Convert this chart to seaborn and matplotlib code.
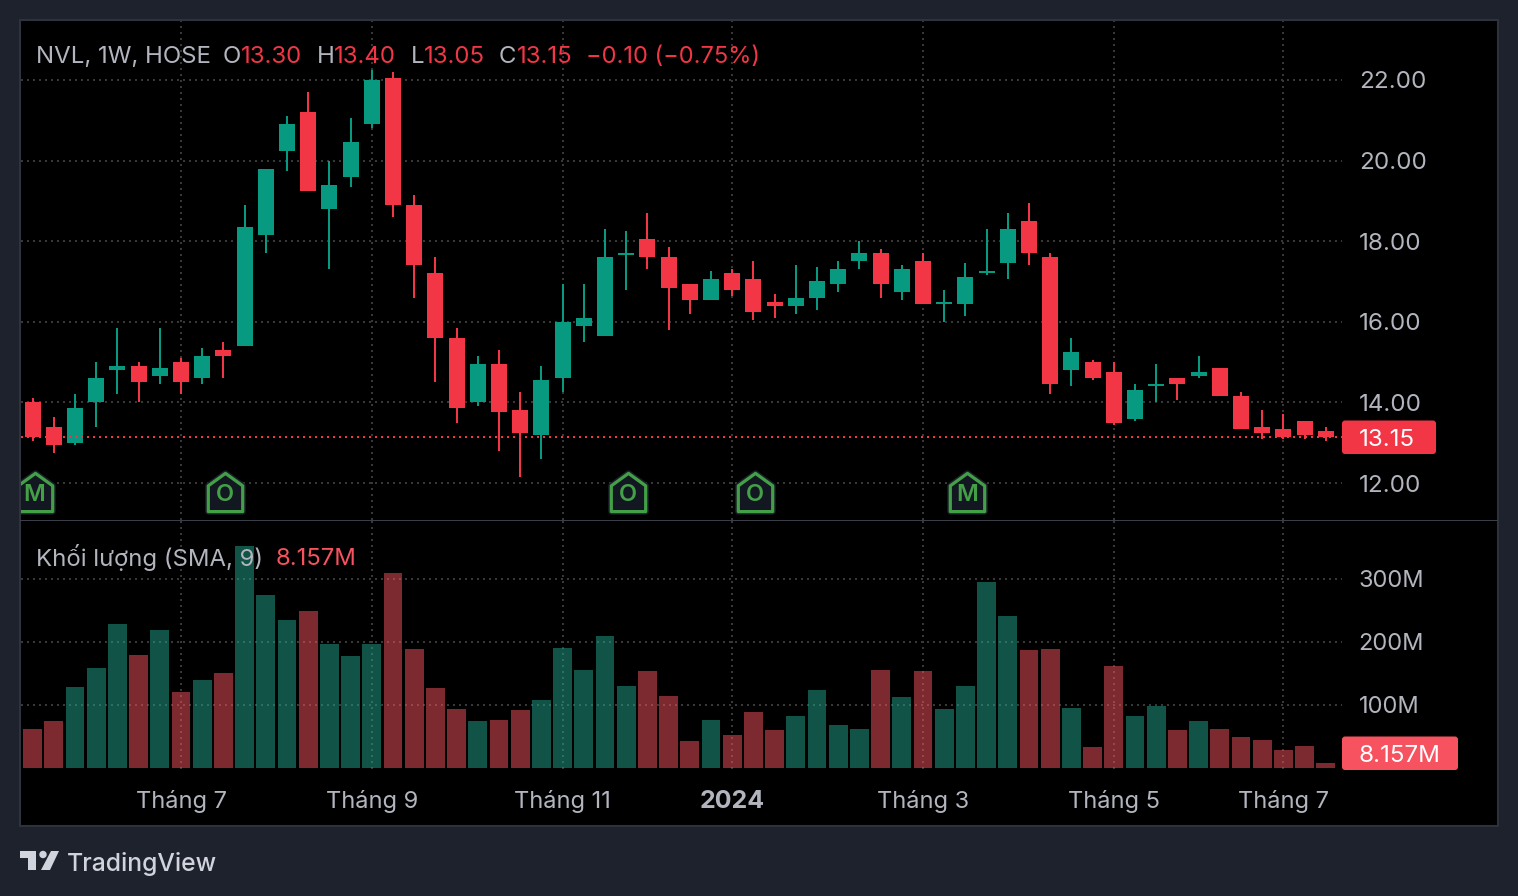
import numpy as np
import matplotlib
matplotlib.use("Agg")
import matplotlib.pyplot as plt
from matplotlib.patches import Rectangle, FancyBboxPatch, Polygon, Circle
from matplotlib.path import Path
from matplotlib.transforms import Affine2D
import seaborn as sns

# weekly candles
opens = [14.00, 13.40, 13.00, 14.00, 14.80, 14.90, 14.65, 15.00, 14.60, 15.30, 15.40, 18.15, 20.25, 21.20, 18.80, 19.60,
         20.90, 22.05, 18.90, 17.20, 15.60, 14.00, 14.95, 13.80, 13.20, 14.60, 15.90, 15.65, 17.65, 18.05, 17.60, 16.95,
         16.55, 17.20, 17.05, 16.50, 16.40, 16.60, 16.95, 17.50, 17.70, 16.75, 17.50, 16.45, 16.45, 17.20, 17.45, 18.50,
         17.60, 14.80, 15.00, 14.75, 13.60, 14.40, 14.60, 14.65, 14.85, 14.15, 13.40, 13.35, 13.55, 13.30]
highs = [14.10, 13.65, 14.20, 15.00, 15.85, 15.00, 15.85, 15.10, 15.35, 15.50, 18.90, 19.80, 21.10, 21.70, 20.00, 21.05,
         22.25, 22.20, 19.15, 17.60, 15.85, 15.15, 15.30, 14.25, 14.90, 16.95, 16.95, 18.30, 18.25, 18.70, 17.85, 16.95,
         17.25, 17.30, 17.50, 16.70, 17.40, 17.35, 17.50, 18.00, 17.80, 17.40, 17.70, 16.80, 17.45, 18.30, 18.70, 18.95,
         17.70, 15.60, 15.05, 15.00, 14.45, 14.95, 14.60, 15.15, 14.85, 14.25, 13.80, 13.70, 13.55, 13.40]
lows = [13.05, 12.75, 12.95, 13.40, 14.20, 14.00, 14.45, 14.20, 14.45, 14.60, 15.40, 17.70, 19.75, 19.25, 17.30, 19.35,
        20.80, 18.60, 16.60, 14.50, 13.50, 13.90, 12.80, 12.15, 12.60, 14.25, 15.50, 15.65, 16.80, 17.30, 15.80, 16.20,
        16.55, 16.65, 16.05, 16.10, 16.20, 16.30, 16.75, 17.30, 16.60, 16.55, 16.45, 16.00, 16.15, 17.15, 17.05, 17.40,
        14.20, 14.40, 14.55, 13.45, 13.55, 14.00, 14.05, 14.60, 14.15, 13.35, 13.10, 13.10, 13.10, 13.05]
closes = [13.15, 12.95, 13.85, 14.60, 14.90, 14.50, 14.85, 14.50, 15.15, 15.15, 18.35, 19.80, 20.90, 19.25, 19.40, 20.45,
          22.00, 18.90, 17.40, 15.60, 13.85, 14.95, 13.75, 13.25, 14.55, 16.00, 16.10, 17.60, 17.70, 17.60, 16.85, 16.55,
          17.05, 16.80, 16.25, 16.40, 16.60, 17.00, 17.30, 17.70, 16.95, 17.30, 16.45, 16.50, 17.10, 17.25, 18.30, 17.70,
          14.45, 15.25, 14.60, 13.50, 14.30, 14.45, 14.45, 14.75, 14.15, 13.35, 13.25, 13.15, 13.20, 13.15]
volumes = [62, 74.6, 128.6, 158.7, 228.6, 179.4, 219, 120.6, 139.7, 150.8, 352, 274.6, 235, 249, 196.8, 177.8,
           196.8, 309.5, 188.9, 127, 93.7, 74.6, 76, 92, 108, 190, 155.6, 209.5, 130, 154, 114, 43,
           76, 52, 89, 60, 82.5, 124, 68, 62, 155.6, 113, 154, 94, 130, 295, 241, 187,
           189, 95, 33, 162, 82.5, 98, 60, 74.6, 62, 49, 44, 28.6, 35, 8.157]

price_ticks = [12, 14, 16, 18, 20, 22]
volume_ticks = [100, 200, 300]
date_ticks = [7, 16, 25, 33, 42, 51, 59]
date_labels = ["Tháng 7", "Tháng 9", "Tháng 11", "2024", "Tháng 3", "Tháng 5", "Tháng 7"]
badge_bars = [0, 9, 28, 34, 44]
badge_letters = ["M", "O", "O", "O", "M"]
last_price = 13.15

BG = "#1E222D"
BORDER = "#2E323D"
TEXT = "#B2B5BE"
GRID = "#383838"
UP = "#089981"
DOWN = "#F23645"
VOL_UP = "#22A88F"
VOL_DOWN = "#FA5260"
FONT = ["Inter", "DejaVu Sans"]
DOTS = (0, (1, 2))

sns.set_theme(style="dark")
plt.rcParams["font.family"] = FONT

W, H = 1518, 896
fig = plt.figure(figsize=(W / 100, H / 100), dpi=100, facecolor=BG)
# pixel coordinates for the frame, tags and logo (y from the top)
px = Affine2D().scale(1, -1).translate(0, H)


def make_axes(left, top, right, bottom):
    ax = fig.add_axes([left / W, (H - bottom) / H, (right - left) / W, (bottom - top) / H])
    ax.set_facecolor("none")
    sns.despine(ax=ax, left=True, bottom=True)
    ax.set_axisbelow(True)
    ax.grid(True, color=GRID, linestyle=DOTS, linewidth=1.44)
    return ax


fig.add_artist(Rectangle((20, 20), 1478, 806, transform=px, facecolor="black", edgecolor=BORDER, linewidth=1.5, zorder=-1))
fig.add_artist(Rectangle((20, 519.5), 1478, 1.5, transform=px, facecolor="#3A3E49", edgecolor="none", zorder=-1))

ax = make_axes(21, 21, 1342, 520)
ax_vol = make_axes(21, 521, 1342, 769)

bars = np.arange(len(closes))
o, h, l, c = map(np.array, (opens, highs, lows, closes))
up = c >= o

# candles
ax.vlines(bars[up], l[up], h[up], color=UP, linewidth=1.44, zorder=2)
ax.vlines(bars[~up], l[~up], h[~up], color=DOWN, linewidth=1.44, zorder=2)
for mask, col in [(up, UP), (~up, DOWN)]:
    sns.barplot(x=bars[mask], y=np.abs(c - o)[mask], bottom=np.minimum(o, c)[mask], color=col, saturation=1,
                native_scale=True, width=0.755, errorbar=None, linewidth=0, zorder=3, ax=ax)

ax.axhline(last_price, color=DOWN, linestyle=DOTS, linewidth=1.44, zorder=4)

# volume
direction = np.where(up, "up", "down")
sns.barplot(x=bars, y=volumes, hue=direction, palette={"up": VOL_UP, "down": VOL_DOWN}, saturation=1, dodge=False,
            native_scale=True, width=0.896, errorbar=None, linewidth=0, alpha=0.5, legend=False, zorder=3, ax=ax_vol)

# earnings badges, slightly right of their bar
badge_path = Path([(0, 20), (18, 7), (18, -20), (-18, -20), (-18, 7), (0, 20), (0, 20)],
                  [Path.MOVETO, Path.LINETO, Path.LINETO, Path.LINETO, Path.LINETO, Path.LINETO, Path.CLOSEPOLY])
badge_x = np.array(badge_bars) + 0.09
badge_y = 11.78
ax.plot(badge_x, [badge_y] * len(badge_x), linestyle="none", marker=badge_path, markersize=27.5, markerfacecolor="#131722",
        markeredgecolor="#1A1E29", markeredgewidth=4.5, zorder=5)
ax.plot(badge_x, [badge_y] * len(badge_x), linestyle="none", marker=badge_path, markersize=27.5, markerfacecolor="#131722",
        markeredgecolor="#43A047", markeredgewidth=2.3, zorder=6)
for bx, letter in zip(badge_x, badge_letters):
    ax.text(bx, 11.69, letter, color="#43A047", fontsize=17, fontweight="semibold", ha="center", va="center", zorder=7, clip_on=True)

xlim = ((21 - 32.6) / 21.2, (1342 - 32.6) / 21.2)
ax.set_xlim(xlim)
ax_vol.set_xlim(xlim)
ax.set_ylim(22 - (520 - 80) / 40.3, 22 + (80 - 21) / 40.3)
ax_vol.set_ylim(-1.6, (768 - 521) / 0.63)

for a in (ax, ax_vol):
    a.set(xlabel="", ylabel="")
    a.yaxis.tick_right()
    a.set_xticks(date_ticks)
ax.set_yticks(price_ticks)
ax.set_yticklabels([f"{t:.2f}" for t in price_ticks])
ax_vol.set_yticks(volume_ticks)
ax_vol.set_yticklabels([f"{t}M" for t in volume_ticks])
ax.tick_params(axis="x", length=0, labelbottom=False)
ax.tick_params(axis="y", length=0, pad=12, labelsize=17.4, labelcolor=TEXT)
ax_vol.tick_params(axis="y", length=0, pad=12, labelsize=17, labelcolor=TEXT)
ax_vol.set_xticklabels(date_labels)
ax_vol.tick_params(axis="x", length=0, pad=15, labelsize=17, labelcolor=TEXT)
ax_vol.get_xticklabels()[3].set_fontweight("bold")
ax_vol.get_xticklabels()[3].set_fontsize(18)

# price and volume tags
fig.add_artist(FancyBboxPatch((1342, 420.5), 94, 33.5, boxstyle="round,pad=0,rounding_size=3", transform=px,
                              facecolor=DOWN, edgecolor="none", zorder=4))
fig.add_artist(FancyBboxPatch((1342, 736.5), 116, 33.5, boxstyle="round,pad=0,rounding_size=3", transform=px,
                              facecolor="#F7525F", edgecolor="none", zorder=4))
fig.text(1359, 437, f"{last_price:.2f}", transform=px, color="white", fontsize=17.4, va="center_baseline", zorder=5)
fig.text(1359, 753, f"{volumes[-1]:.3f}M", transform=px, color="white", fontsize=17.4, va="center_baseline", zorder=5)

# legend rows
legend_parts = [(36, "NVL, 1W, HOSE", TEXT), (223, "O", TEXT), (241, f"{opens[-1]:.2f}", DOWN), (317, "H", TEXT),
                (334, f"{highs[-1]:.2f}", DOWN), (411, "L", TEXT), (424, f"{lows[-1]:.2f}", DOWN), (499, "C", TEXT),
                (517, f"{closes[-1]:.2f}", DOWN)]
for x, s, col in legend_parts:
    fig.text(x, 54, s, transform=px, color=col, fontsize=17.3, va="center_baseline")
fig.text(586, 54, "−0.10 (−0.75%)", transform=px, color=DOWN, fontsize=17, va="center_baseline")
fig.text(36, 555, "Khối lượng (SMA, 9)", transform=px, color=TEXT, fontsize=17.2, va="center_baseline")
fig.text(276, 556, f"{volumes[-1]:.3f}M", transform=px, color="#F7525F", fontsize=17.2, va="center_baseline")

# logo
LOGO = "#D1D4DC"
fig.add_artist(Polygon([(20, 851), (36, 851), (36, 870), (28, 870), (28, 858), (20, 858)], transform=px, facecolor=LOGO, edgecolor="none"))
fig.add_artist(Circle((43, 854.5), 3.7, transform=px, facecolor=LOGO, edgecolor="none"))
fig.add_artist(Polygon([(59, 851), (51, 851), (41, 870), (50, 870)], transform=px, facecolor=LOGO, edgecolor="none"))
fig.text(67, 861, "TradingView", transform=px, color=LOGO, fontsize=17.8, fontweight="medium", va="center_baseline")

fig.savefig("out.png", dpi=100, facecolor=BG)
